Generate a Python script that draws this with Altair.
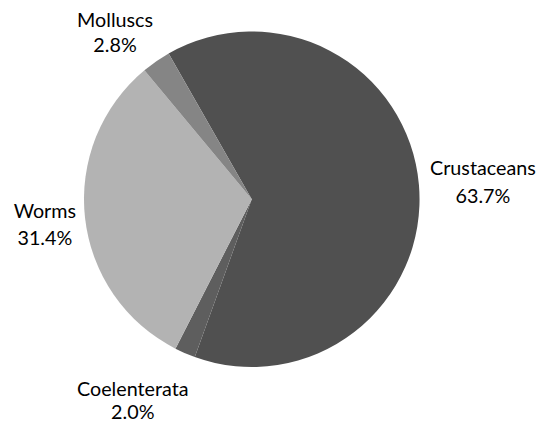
import math
import altair as alt
import pandas as pd

categories = ["Crustaceans", "Coelenterata", "Worms", "Molluscs"]
values = [63.7, 2.0, 31.4, 2.8]
colors = ["#505050", "#5e5e5e", "#b3b3b3", "#858585"]

df = pd.DataFrame({
    "category": categories,
    "value": values,
    "idx": list(range(len(categories))),
})
df["label"] = [f"{c}\n{v:.1f}%" for c, v in zip(categories, values)]

total = float(sum(values))
start = math.radians(330.3)
theta_scale = alt.Scale(domain=[0, total], range=[start, start + 2 * math.pi])

CX, CY = 247, 189  # pie centre inside the plot area

pie = alt.Chart(df).mark_arc(outerRadius=170).encode(
    theta=alt.Theta("value:Q", stack=True, scale=theta_scale),
    order=alt.Order("idx:Q"),
    color=alt.Color("category:N", scale=alt.Scale(domain=categories, range=colors), legend=None),
    x=alt.value(CX),
    y=alt.value(CY),
)

label_base = alt.Chart(df).transform_window(
    cum="sum(value)", sort=[alt.SortField("idx")]
).transform_calculate(
    mid="datum.cum - datum.value / 2"
)

# (dx, dy, lineHeight) per label
offsets = {
    "Crustaceans": (20, -12, 28),
    "Coelenterata": (-35, -4, 23),
    "Worms": (4, -11, 28),
    "Molluscs": (-16, -4, 25),
}

layers = [pie]
for cat in categories:
    dx, dy, lh = offsets[cat]
    layers.append(
        label_base.transform_filter(alt.datum.category == cat).mark_text(
            radius=215, dx=dx, dy=dy, font="Lato", fontSize=20, lineHeight=lh,
            align="center", baseline="middle", lineBreak="\n", color="#000000",
        ).encode(
            theta=alt.Theta("mid:Q", stack=None, scale=theta_scale),
            text="label:N",
            x=alt.value(CX),
            y=alt.value(CY),
        )
    )

chart = alt.layer(*layers).properties(
    width=528, height=407, padding=0
).configure_view(stroke=None)

chart.save("out.html", embed_options={"renderer": "svg", "actions": False})
